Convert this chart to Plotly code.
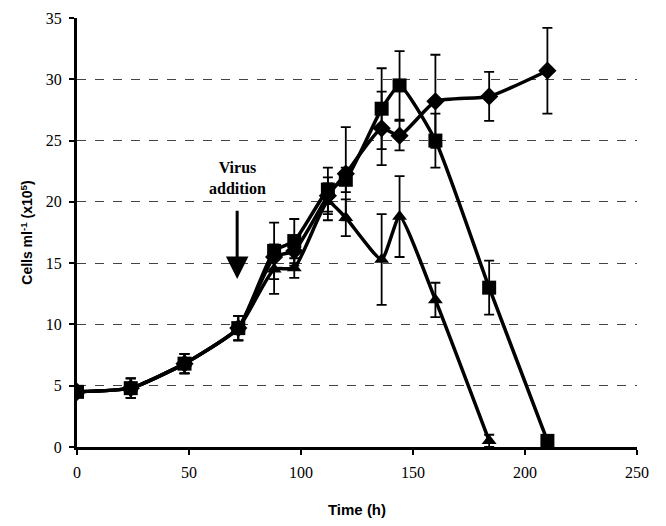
import plotly.graph_objects as go

time_early = [0, 24, 48, 72]
cells_early = [4.5, 4.8, 6.8, 9.7]
err_early = [0.3, 0.8, 0.8, 1.0]

time_square = time_early + [88, 97, 112, 120, 136, 144, 160, 184, 210]
cells_square = cells_early + [16.0, 16.8, 21.0, 21.8, 27.6, 29.5, 25.0, 13.0, 0.5]
err_square = err_early + [2.3, 1.8, 1.8, 1.0, 3.3, 2.8, 2.2, 2.2, 0.3]

time_diamond = time_early + [88, 97, 112, 120, 136, 144, 160, 184, 210]
cells_diamond = cells_early + [15.5, 16.0, 20.5, 22.3, 26.0, 25.4, 28.2, 28.6, 30.7]
err_diamond = err_early + [1.0, 1.2, 1.5, 3.8, 3.0, 1.2, 3.8, 2.0, 3.5]

time_triangle = time_early + [88, 97, 112, 120, 136, 144, 160, 184]
cells_triangle = cells_early + [14.5, 14.6, 20.0, 18.7, 15.3, 18.8, 12.0, 0.5]
err_triangle = err_early + [2.0, 0.8, 1.5, 1.5, 3.7, 3.3, 1.4, 0.5]

x_ticks = [0, 50, 100, 150, 200, 250]
y_ticks = [0, 5, 10, 15, 20, 25, 30, 35]

fig = go.Figure()

def add_series(x, y, e, symbol, size):
    fig.add_trace(go.Scatter(
        x=x, y=y, mode="lines+markers",
        line=dict(color="black", width=3.5, shape="spline", smoothing=0.5),
        marker=dict(symbol=symbol, size=size, color="black"),
        error_y=dict(type="data", array=e, visible=True, color="black",
                     thickness=1.8, width=5),
        showlegend=False,
    ))

add_series(time_triangle, cells_triangle, err_triangle, "triangle-up", 13)
add_series(time_diamond, cells_diamond, err_diamond, "diamond", 14)
add_series(time_square, cells_square, err_square, "square", 14)

fig.add_annotation(
    x=71.5, y=13.7, ax=71.5, ay=19.4, xref="x", yref="y", axref="x", ayref="y",
    showarrow=True, arrowhead=2, arrowsize=1.5, arrowwidth=3, arrowcolor="black",
    text="",
)
fig.add_annotation(
    x=71.5, y=20.2, xref="x", yref="y", yanchor="bottom", showarrow=False,
    text="<b>Virus<br>addition</b>",
    font=dict(family="Liberation Serif", size=16, color="black"),
)

fig.update_layout(
    width=658, height=518,
    margin=dict(l=69, r=29, t=10, b=79),
    paper_bgcolor="white", plot_bgcolor="white",
    font=dict(family="Liberation Serif", size=16, color="black"),
)
fig.update_xaxes(
    range=[0, 250], tickvals=x_ticks, ticks="outside", ticklen=5, tickwidth=2,
    tickcolor="black", showline=True, linecolor="black", linewidth=3,
    showgrid=False, zeroline=False, automargin=False, ticklabelstandoff=4,
    title=dict(text="<b>Time (h)</b>", font=dict(family="Liberation Sans", size=15), standoff=25),
)
fig.update_yaxes(
    range=[0, 35], tickvals=y_ticks, ticks="outside", ticklen=5, tickwidth=2,
    tickcolor="black", showline=True, linecolor="black", linewidth=3,
    showgrid=True, gridcolor="#444444", griddash="dash", gridwidth=1.2,
    zeroline=False, automargin=False, ticklabelstandoff=4,
    title=dict(text="<b>Cells ml<sup>-1</sup> (x10<sup>5</sup>)</b>",
               font=dict(family="Liberation Sans", size=14), standoff=10),
)

fig.write_html("out.html")
